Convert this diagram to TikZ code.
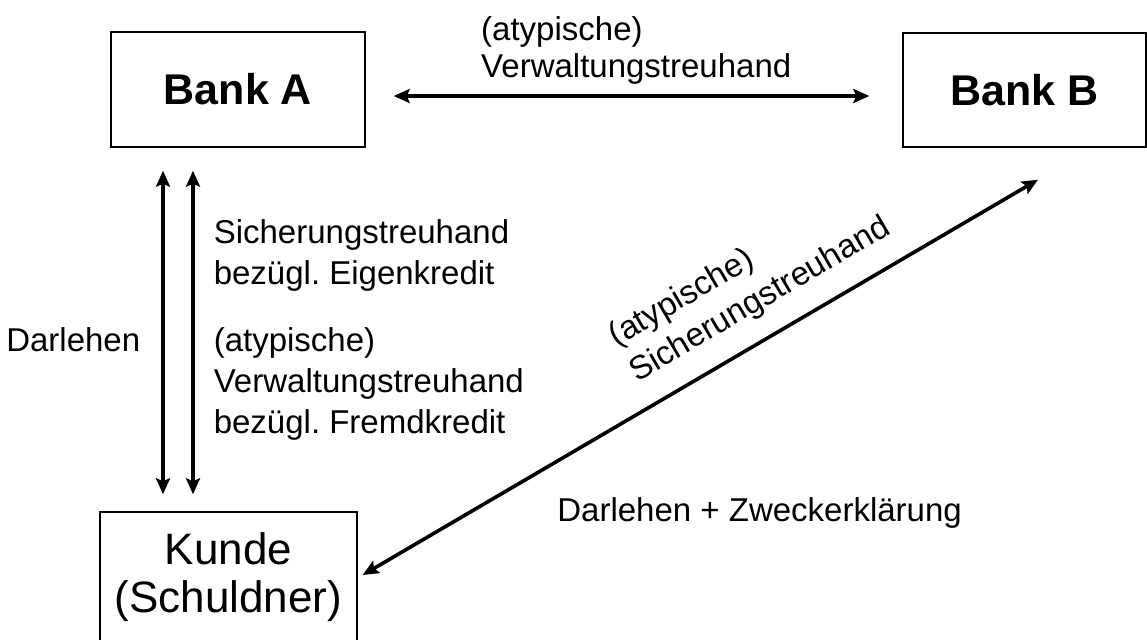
\documentclass[tikz,border=0pt]{standalone}
\usepackage{fontspec}
\setmainfont{Liberation Sans}
\usetikzlibrary{arrows.meta,positioning,calc}
\frenchspacing

\begin{document}
\begin{tikzpicture}[x=0.5pt,y=-0.5pt,
  font=\fontsize{16.5}{20.5}\selectfont,
  party/.style={draw,line width=0.7pt,inner sep=0pt,align=center},
  bank/.style={party,font=\fontsize{21.5}{26}\selectfont\bfseries},
  rel/.style={{Stealth[length=8pt,width=7pt,inset=1.5pt]}-{Stealth[length=8pt,width=7pt,inset=1.5pt]},line width=1.8pt},
  lbl/.style={align=left,inner sep=0pt}]
  \useasboundingbox (0,0) rectangle (1147,639);
  \clip (0,0) rectangle (1147,639);
  % parties
  \node[bank,minimum width=127pt,minimum height=57.5pt] (bankA) at (238,89.5) {Bank A};
  \node[bank,minimum width=121.5pt,minimum height=57pt] (bankB) at (1024.5,90) {Bank B};
  \node[party,minimum width=128.5pt,minimum height=65pt,font=\fontsize{22}{24}\selectfont] (kunde) at (228.5,577) {Kunde\\(Schuldner)};
  % relations
  \draw[rel] ($(bankA.east)+(28,6.5)$) -- node[above=5pt,pos=0.51,lbl,font=\fontsize{16.5}{18.5}\selectfont]{(atypische)\\Verwaltungstreuhand} ($(bankB.west)+(-33,6)$);
  \draw[rel] ($(bankA.south)+(-75,23)$) -- node[left=10.5pt,pos=0.523,lbl]{Darlehen} ($(kunde.north)+(-65.5,-17)$);
  \draw[rel] ($(bankA.south)+(-45,23)$) --
    node[right=9.5pt,pos=0.262,lbl]{Sicherungstreuhand\\bezügl. Eigenkredit}
    node[right=9.5pt,pos=0.66,lbl]{(atypische)\\Verwaltungstreuhand\\bezügl. Fremdkredit} ($(kunde.north)+(-35.5,-17)$);
  \draw[rel] ($(kunde.east)+(5,-2)$) -- node[sloped,above=9.5pt,pos=0.616,lbl]{(atypische)\\Sicherungstreuhand} ($(bankB.south)+(13.5,32)$);
  \node[lbl,anchor=west] (zweck) at (557,513) {Darlehen + Zweckerklärung};
\end{tikzpicture}
\end{document}
